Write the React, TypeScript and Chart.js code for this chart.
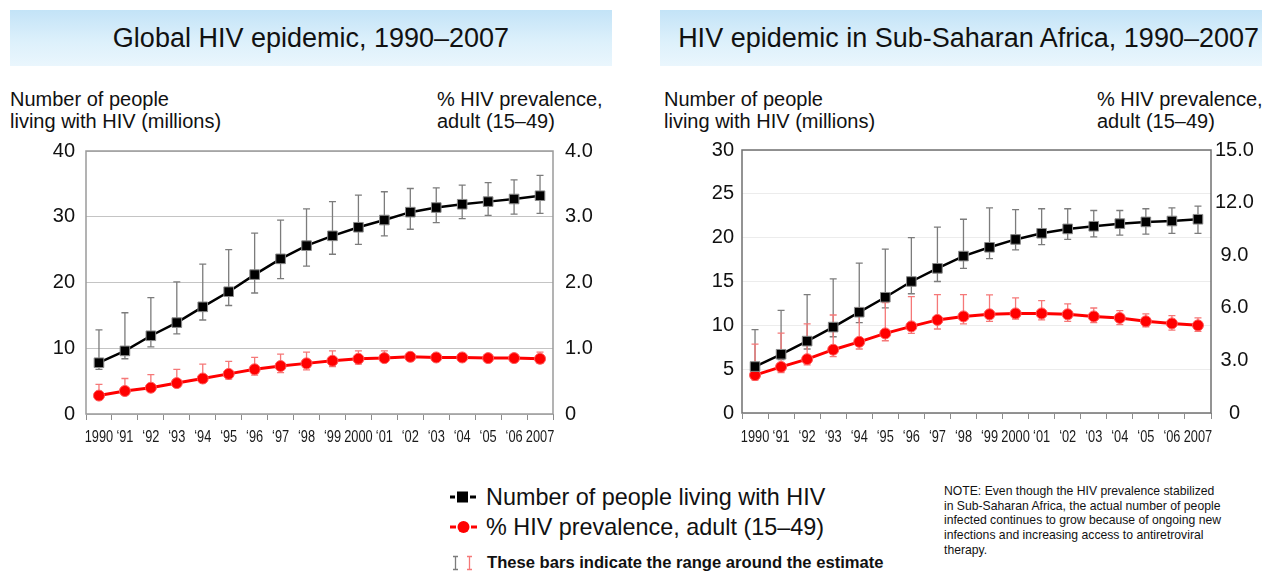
import React, { useEffect, useRef } from 'react';
import { Chart, registerables } from 'chart.js';

Chart.register(...registerables);

// ---------- data ----------
const years = ['1990', '‘91', '‘92', '‘93', '‘94', '‘95', '‘96', '‘97', '‘98', '‘99', '2000', '‘01', '‘02', '‘03', '‘04', '‘05', '‘06', '2007'];

// Global
const globalPeople = [7.8, 9.6, 11.9, 13.9, 16.3, 18.6, 21.2, 23.6, 25.6, 27.1, 28.4, 29.5, 30.7, 31.4, 31.9, 32.3, 32.7, 33.2];
const globalPeopleLow = [6.8, 8.4, 10.2, 12.2, 14.3, 16.5, 18.4, 20.6, 22.5, 24.3, 25.8, 27.1, 28.1, 29.1, 29.7, 30.2, 30.4, 30.5];
const globalPeopleHigh = [12.8, 15.4, 17.7, 20.1, 22.8, 25.0, 27.5, 29.5, 31.2, 32.3, 33.3, 33.8, 34.3, 34.4, 34.8, 35.2, 35.6, 36.3];
const globalPrev = [0.28, 0.35, 0.40, 0.47, 0.54, 0.61, 0.68, 0.73, 0.77, 0.81, 0.84, 0.85, 0.87, 0.86, 0.86, 0.85, 0.85, 0.84];
const globalPrevLow = [0.24, 0.30, 0.35, 0.41, 0.48, 0.53, 0.59, 0.63, 0.67, 0.72, 0.76, 0.79, 0.81, 0.81, 0.81, 0.80, 0.80, 0.77];
const globalPrevHigh = [0.45, 0.54, 0.60, 0.68, 0.76, 0.80, 0.86, 0.91, 0.94, 0.96, 0.96, 0.96, 0.93, 0.91, 0.91, 0.89, 0.89, 0.94];

// Sub-Saharan Africa
const ssaPeople = [5.3, 6.7, 8.2, 9.8, 11.5, 13.2, 15.0, 16.5, 17.9, 18.9, 19.8, 20.5, 21.0, 21.3, 21.6, 21.8, 21.9, 22.1];
const ssaPeopleLow = [4.9, 6.1, 7.3, 8.7, 10.3, 12.0, 13.6, 15.0, 16.5, 17.6, 18.6, 19.2, 19.8, 20.1, 20.3, 20.4, 20.5, 20.5];
const ssaPeopleHigh = [9.5, 11.7, 13.5, 15.3, 17.1, 18.7, 20.0, 21.2, 22.1, 23.4, 23.2, 23.3, 23.3, 23.1, 23.1, 23.3, 23.4, 23.6];
const ssaPrev = [2.16, 2.63, 3.07, 3.61, 4.06, 4.54, 4.94, 5.31, 5.51, 5.63, 5.68, 5.68, 5.63, 5.51, 5.42, 5.23, 5.11, 5.0];
const ssaPrevLow = [1.87, 2.31, 2.75, 3.21, 3.65, 4.12, 4.54, 4.79, 5.08, 5.23, 5.36, 5.31, 5.23, 5.15, 5.04, 4.92, 4.73, 4.65];
const ssaPrevHigh = [3.93, 4.56, 5.08, 5.59, 6.0, 6.3, 6.64, 6.75, 6.75, 6.74, 6.57, 6.41, 6.22, 5.99, 5.84, 5.65, 5.55, 5.42];

const FONT = "'Liberation Sans', Arial, sans-serif";

type ChartProps = {
  left: number; top: number; width: number; height: number;
  people: number[]; peopleLow: number[]; peopleHigh: number[];
  prev: number[]; prevLow: number[]; prevHigh: number[];
  yMax: number; yStep: number; y2Max: number; y2Step: number;
  leftW: number; rightW: number; xH: number; padTop: number;
  gridColor: string; boxColor: string; yPad: number; y2Pad: number; y2Align: 'near' | 'center' | 'far';
  labelOffset: number;
};

function HivChart(p: ChartProps) {
  const ref = useRef<HTMLCanvasElement | null>(null);
  useEffect(() => {
    if (!ref.current) return;
    const plotPlugin = {
      id: 'plotExtras',
      beforeDatasetsDraw(chart: any) {
        const { ctx, chartArea: a } = chart;
        ctx.save();
        ctx.strokeStyle = p.boxColor;
        ctx.lineWidth = 1.5;
        ctx.strokeRect(a.left, a.top, a.right - a.left, a.bottom - a.top);
        const xs = chart.scales.x;
        chart.data.datasets.forEach((ds: any) => {
          const ys = chart.scales[ds.yAxisID];
          ctx.strokeStyle = ds.errColor;
          ctx.lineWidth = 1.3;
          ds.errLow.forEach((lo: number, j: number) => {
            const x = xs.getPixelForValue(j);
            const yl = ys.getPixelForValue(lo);
            const yh = ys.getPixelForValue(ds.errHigh[j]);
            ctx.beginPath();
            ctx.moveTo(x, yl); ctx.lineTo(x, yh);
            ctx.moveTo(x - 3.5, yl); ctx.lineTo(x + 3.5, yl);
            ctx.moveTo(x - 3.5, yh); ctx.lineTo(x + 3.5, yh);
            ctx.stroke();
          });
        });
        // condensed category labels, placed by the x scale
        ctx.fillStyle = '#1a1a1a';
        ctx.font = `16px ${FONT}`;
        ctx.textAlign = 'center';
        ctx.textBaseline = 'middle';
        (chart.data.labels as string[]).forEach((lab: string, j: number) => {
          const x = xs.getPixelForValue(j);
          ctx.save();
          ctx.translate(x, a.bottom + p.labelOffset);
          ctx.scale(0.8, 1);
          ctx.fillText(lab, 0, 0);
          ctx.restore();
        });
        ctx.restore();
      },
    };
    const tickFont = { family: FONT, size: 20 };
    const chart = new Chart(ref.current, {
      type: 'line',
      data: {
        labels: years,
        datasets: [
          {
            label: 'Number of people living with HIV',
            data: p.people,
            yAxisID: 'y',
            borderColor: '#000',
            borderWidth: 2.5,
            pointStyle: 'rect',
            pointRadius: 6.8,
            pointBackgroundColor: '#000',
            pointBorderColor: '#8a8a8a',
            pointBorderWidth: 1,
            errLow: p.peopleLow,
            errHigh: p.peopleHigh,
            errColor: '#7c7c7c',
          } as any,
          {
            label: '% HIV prevalence, adult (15–49)',
            data: p.prev,
            yAxisID: 'y2',
            borderColor: '#ff0000',
            borderWidth: 3,
            pointStyle: 'circle',
            pointRadius: 5.5,
            pointBackgroundColor: '#ff0000',
            pointBorderColor: '#ff5a5a',
            pointBorderWidth: 1,
            errLow: p.prevLow,
            errHigh: p.prevHigh,
            errColor: '#f57878',
          } as any,
        ],
      },
      options: {
        animation: false,
        responsive: false,
        events: [],
        layout: { padding: { top: p.padTop, left: 0, right: 0, bottom: 0 } },
        plugins: { legend: { display: false }, tooltip: { enabled: false } },
        scales: {
          x: {
            type: 'category',
            offset: true,
            border: { display: false },
            grid: { offset: true, drawOnChartArea: false, tickLength: 6, color: '#8c8c8c', lineWidth: 1 },
            ticks: { display: false, autoSkip: false, maxRotation: 0 },
            afterFit: (s: any) => { s.height = p.xH; },
          },
          y: {
            position: 'left',
            min: 0,
            max: p.yMax,
            border: { display: false },
            grid: { color: p.gridColor, drawTicks: false, lineWidth: 1 },
            ticks: { stepSize: p.yStep, font: tickFont, color: '#111', padding: p.yPad },
            afterFit: (s: any) => { s.width = p.leftW; },
          },
          y2: {
            position: 'right',
            min: 0,
            max: p.y2Max,
            border: { display: false },
            grid: { display: false, drawTicks: false },
            ticks: {
              stepSize: p.y2Step,
              font: tickFont,
              color: '#111',
              padding: p.y2Pad,
              crossAlign: p.y2Align,
              callback: (v: any) => (Number(v) === 0 ? '0' : Number(v).toFixed(1)),
            },
            afterFit: (s: any) => { s.width = p.rightW; },
          },
        },
      } as any,
      plugins: [plotPlugin],
    });
    return () => chart.destroy();
  }, []);
  return (
    <canvas
      ref={ref}
      width={p.width}
      height={p.height}
      style={{ position: 'absolute', left: p.left, top: p.top, width: p.width, height: p.height }}
    />
  );
}

const boxStyle = (left: number): React.CSSProperties => ({
  position: 'absolute',
  left,
  top: 10,
  width: 602,
  height: 56,
  background: 'linear-gradient(to bottom, #c3e3f7 0%, #dcf0fb 55%, #eaf6fd 100%)',
  display: 'flex',
  alignItems: 'center',
  justifyContent: 'center',
  fontFamily: FONT,
  fontSize: 27,
  color: '#111',
  whiteSpace: 'nowrap',
});

const axisTitle = (left: number): React.CSSProperties => ({
  position: 'absolute',
  left,
  top: 88,
  fontFamily: FONT,
  fontSize: 20,
  lineHeight: '22px',
  color: '#111',
  whiteSpace: 'nowrap',
});

export default function App() {
  return (
    <div style={{ position: 'absolute', left: 0, top: 0, width: 1264, height: 572, background: '#fff', overflow: 'hidden' }}>
      <div style={boxStyle(10)}>Global HIV epidemic, 1990–2007</div>
      <div style={{ ...boxStyle(660), justifyContent: 'flex-end', paddingRight: 3, boxSizing: 'border-box' }}>HIV epidemic in Sub-Saharan Africa, 1990–2007</div>

      <div style={axisTitle(10)}>Number of people<br />living with HIV (millions)</div>
      <div style={axisTitle(437)}>% HIV prevalence,<br />adult (15–49)</div>
      <div style={axisTitle(664)}>Number of people<br />living with HIV (millions)</div>
      <div style={axisTitle(1097)}>% HIV prevalence,<br />adult (15–49)</div>

      <HivChart
        left={0} top={127} width={640} height={330}
        people={globalPeople} peopleLow={globalPeopleLow} peopleHigh={globalPeopleHigh}
        prev={globalPrev} prevLow={globalPrevLow} prevHigh={globalPrevHigh}
        yMax={40} yStep={10} y2Max={4} y2Step={1}
        leftW={86} rightW={87} xH={43} padTop={17}
        gridColor="#c4c4c4" boxColor="#9a9a9a" yPad={11} y2Pad={12} y2Align="near"
        labelOffset={24}
      />
      <HivChart
        left={640} top={130} width={624} height={330}
        people={ssaPeople} peopleLow={ssaPeopleLow} peopleHigh={ssaPeopleHigh}
        prev={ssaPrev} prevLow={ssaPrevLow} prevHigh={ssaPrevHigh}
        yMax={30} yStep={5} y2Max={15} y2Step={3}
        leftW={102} rightW={53} xH={47} padTop={20}
        gridColor="#ececec" boxColor="#707070" yPad={8} y2Pad={4} y2Align="center"
        labelOffset={25}
      />

      {/* legend */}
      <div style={{ position: 'absolute', left: 450, top: 485, fontFamily: FONT, color: '#111' }}>
        <div style={{ position: 'absolute', left: 0, top: 0, height: 24, display: 'flex', alignItems: 'center', whiteSpace: 'nowrap' }}>
          <svg width={30} height={14} style={{ marginRight: 6 }}>
            <rect x={0} y={5.5} width={5} height={3} fill="#000" />
            <rect x={7} y={1.5} width={11} height={11} fill="#000" />
            <rect x={20} y={5.5} width={6} height={3} fill="#000" />
          </svg>
          <span style={{ fontSize: 23.4 }}>Number of people living with HIV</span>
        </div>
        <div style={{ position: 'absolute', left: 0, top: 30, height: 24, display: 'flex', alignItems: 'center', whiteSpace: 'nowrap' }}>
          <svg width={30} height={14} style={{ marginRight: 6 }}>
            <rect x={0} y={5.5} width={6} height={3} fill="#ff0000" />
            <circle cx={13.5} cy={7} r={6} fill="#ff0000" />
            <rect x={21} y={5.5} width={6} height={3} fill="#ff0000" />
          </svg>
          <span style={{ fontSize: 23.4 }}>% HIV prevalence, adult (15–49)</span>
        </div>
        <div style={{ position: 'absolute', left: 0, top: 68, height: 20, display: 'flex', alignItems: 'center', whiteSpace: 'nowrap' }}>
          <svg width={32} height={16} style={{ marginRight: 5 }}>
            <path d="M3 1.5 H8 M5.5 1.5 V14.5 M3 14.5 H8" stroke="#7c7c7c" strokeWidth={1.3} fill="none" />
            <path d="M17 1.5 H22 M19.5 1.5 V14.5 M17 14.5 H22" stroke="#f57878" strokeWidth={1.3} fill="none" />
          </svg>
          <span style={{ fontSize: 16.6, fontWeight: 'bold' }}>These bars indicate the range around the estimate</span>
        </div>
      </div>

      {/* note */}
      <div style={{ position: 'absolute', left: 944, top: 484, width: 320, fontFamily: FONT, fontSize: 12.2, lineHeight: '14.7px', color: '#111', whiteSpace: 'nowrap' }}>
        NOTE: Even though the HIV prevalence stabilized<br />
        in Sub-Saharan Africa, the actual number of people<br />
        infected continues to grow because of ongoing new<br />
        infections and increasing access to antiretroviral<br />
        therapy.
      </div>
    </div>
  );
}
